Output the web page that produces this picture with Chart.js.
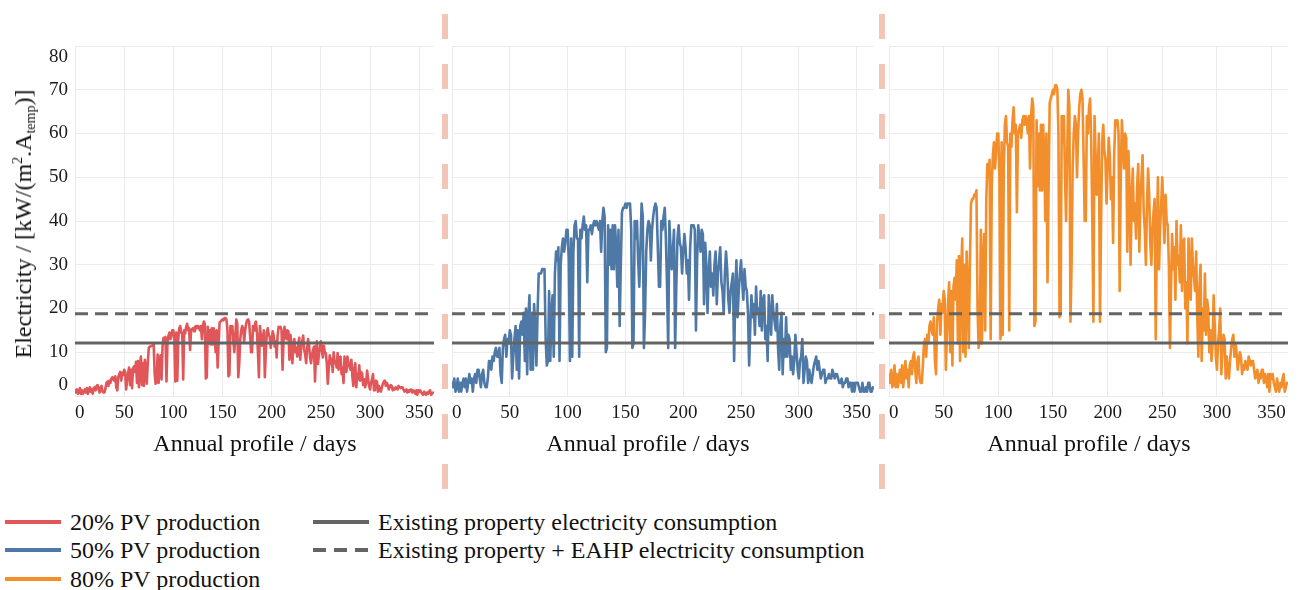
<!DOCTYPE html>
<html>
<head>
<meta charset="utf-8">
<script src="https://cdn.jsdelivr.net/npm/chart.js@4.4.1/dist/chart.umd.min.js"></script>
<style>
  html, body { margin: 0; padding: 0; background: #fff; }
  #wrap { position: relative; width: 1301px; height: 590px; overflow: hidden; background: #fff;
          font-family: "Liberation Serif", "Times New Roman", serif; color: #111; }
  #wrap canvas { position: absolute; top: 0; }
  .sep { position: absolute; top: 14px; width: 6px; height: 476px;
         background: repeating-linear-gradient(to bottom, #f2c5b6 0 25px, transparent 25px 50px); }
  .xtitle { position: absolute; top: 429px; font-size: 24px; line-height: 28px; white-space: nowrap;
            transform: translateX(-50%); }
  #ytitle { position: absolute; left: 23px; top: 224px; font-size: 24px; line-height: 24px; white-space: nowrap;
            transform: translate(-50%, -50%) rotate(-90deg); }
  #ytitle sup, #ytitle sub { font-size: 14px; line-height: 0; }
  #ytitle sup { vertical-align: 9px; }
  #ytitle sub { vertical-align: -4px; }
  .leg { position: absolute; display: flex; align-items: center; font-size: 24px; line-height: 28px; white-space: nowrap; }
  .leg svg { margin-right: 9px; display: block; }
</style>
</head>
<body>
<div id="wrap">
  <canvas id="p20" width="440" height="470" style="left:0px"></canvas>
  <canvas id="p50" width="434" height="470" style="left:446px"></canvas>
  <canvas id="p80" width="411" height="470" style="left:883px"></canvas>
  <div class="sep" style="left:442px"></div>
  <div class="sep" style="left:879px"></div>
  <div id="ytitle">Electricity / [kW/(m<sup>2</sup>.A<sub>temp</sub>)]</div>
  <div class="xtitle" style="left:255px">Annual profile / days</div>
  <div class="xtitle" style="left:648px">Annual profile / days</div>
  <div class="xtitle" style="left:1089px">Annual profile / days</div>
</div>
<script>
// Daily PV production over the year (day 0 .. 364), one value per day
const pv20 = [
  1.3,0.8,1.5,0.5,0.8,1.8,0.5,1.3,0.5,1,
  1.5,0.8,1.8,0.5,1.3,2,1,1.5,0.5,1.8,
  2,1.3,2.3,2.5,1.5,0.8,2,2.3,1,0.8,
  0.8,1.8,3,3.3,2.3,3.5,3,4,4.3,3.8,
  3.5,4.5,2,1.3,4.3,5,5.5,3.5,5.3,4.8,
  6,5.5,1.5,3.5,5.3,6.5,2.5,6,1.8,6.3,
  6.8,5.5,7.8,3,8,2,7,9,2.5,7.5,
  2.3,8.3,6.5,2.8,7.5,11,11.3,11.3,11.5,11.5,
  11.8,5,2.8,3.3,9.5,3,7.5,9.3,3.8,11.3,
  13.3,12.5,13.5,3.3,12,13.8,14.5,13,14,15,
  15,12.5,3.3,14.5,3.5,13,15.5,16,14.5,14.3,
  3.8,15,14.3,15.8,16.5,15,15.5,10.5,15,15.3,
  15.5,14.8,15.8,16,15.5,16,15.8,15,16,13,
  16,17,16.5,4,4.3,15.8,12,15,11.8,15.5,
  11.8,15.5,13.8,10,15,6.5,12,16.8,17,17.3,
  17.5,17.3,17.8,17.8,17.5,15,4.5,4.8,16,14.5,
  16,12.5,10,13.8,17.5,16.5,4.3,7.5,13,15,
  16,15.5,12.5,15,16.5,17.3,17.5,17,13.8,10,
  10,16,15,16.5,17,14.5,10,4.3,16,13.8,
  11.5,13,15,4.3,10,14.5,15.5,14,13.5,11,
  13,14.8,13.8,11.3,12.5,8.8,13.8,15.8,15.5,15.8,
  15,6,12.5,15.8,14.5,13,15,14.8,8.3,14,
  12,7.5,11.3,13,10,11,9,12,13.3,8.3,
  11.3,12.5,13.8,10.5,9.5,7.5,11,13,11.5,8.8,
  7.5,9.5,10.5,11.3,3.3,9,12.5,7.3,9.5,11,
  12.5,10.5,8.8,11.5,10,9.8,7.5,2.8,6.3,9.3,
  7.3,8.5,5.5,10,7.5,8,6.5,9.8,6,8.8,
  9,5,6.5,3,9,7,5.5,9,7.5,6.8,
  6,8.3,4.5,2.3,6.3,7.5,2,5,3.8,7,
  3.5,5.5,5,2.5,3.8,2,3,5.8,4,2.3,
  1.5,3,3.8,5,1.3,2.5,3.5,3.3,1,2.3,
  1.5,1,2,2.8,3.3,3.5,2.3,3,2.5,1.5,
  2,2.5,2.3,1.3,1.8,1.5,2,1.8,1.5,2.3,
  2,1.8,2,2,1.5,1,1.3,1.5,0.8,1.3,
  1,1.5,1.5,0.8,1.3,1,0.5,1.3,0.3,1.3,
  1,1.3,0.8,0.5,0.3,1,0.5,0.3,0.8,0.5,
  1,1.3,0.3,0.5,0.8
];
const pv50 = [
  3,2,4,1,2,4,1,3,1,3,
  4,2,4,1,3,5,3,4,1,4,
  5,3,6,6,4,2,5,6,3,2,
  2,4,8,8,6,9,8,10,11,9,
  9,11,5,3,11,13,14,9,13,12,
  15,14,4,9,13,16,6,15,4,16,
  17,14,19,8,20,5,18,23,6,19,
  6,21,16,7,19,28,28,28,29,29,
  29,13,7,8,24,8,19,23,9,28,
  33,31,34,8,30,34,36,33,35,38,
  38,31,8,36,9,33,39,40,36,36,
  9,38,36,39,41,38,39,26,38,38,
  39,37,39,40,39,40,39,38,40,33,
  40,43,41,10,11,39,30,38,29,39,
  29,39,34,25,38,16,30,42,43,43,
  44,43,44,44,44,38,11,12,40,36,
  40,31,25,34,44,41,11,19,33,38,
  40,39,31,38,41,43,44,43,34,25,
  25,40,38,41,43,36,25,11,40,34,
  29,33,38,11,25,36,39,35,34,28,
  33,37,34,28,31,22,34,39,39,39,
  38,15,31,39,36,33,38,37,21,35,
  30,19,28,33,25,28,23,30,33,21,
  28,31,34,26,24,19,28,33,29,22,
  19,24,26,28,8,23,31,18,24,28,
  31,26,22,29,25,24,19,7,16,23,
  18,21,14,25,19,20,16,24,15,22,
  23,13,16,8,23,18,14,23,19,17,
  15,21,11,6,16,19,5,13,9,18,
  9,14,13,6,9,5,8,14,10,6,
  4,8,9,13,3,6,9,8,3,6,
  4,3,5,7,8,9,6,8,6,4,
  5,6,6,3,4,4,5,4,4,6,
  5,4,5,5,4,3,3,4,2,3,
  3,4,4,2,3,3,1,3,1,3,
  3,3,2,1,1,3,1,1,2,1,
  3,3,1,1,2
];
const pv80 = [
  5,3,6,2,3,7,2,5,2,4,
  6,3,7,2,5,8,4,6,2,7,
  8,5,9,10,6,3,8,9,4,3,
  3,7,12,13,9,14,12,16,17,15,
  14,18,8,5,17,20,22,14,21,19,
  24,22,6,14,21,26,10,24,7,25,
  27,22,31,12,32,8,28,36,10,30,
  9,33,26,11,30,44,45,45,46,46,
  47,20,11,13,38,12,30,37,15,45,
  53,50,54,13,48,55,58,52,56,60,
  60,50,13,58,14,52,62,64,58,57,
  15,60,57,63,66,60,62,42,60,61,
  62,59,63,64,62,64,63,60,64,52,
  64,68,66,16,17,63,48,60,47,62,
  47,62,55,40,60,26,48,67,68,69,
  70,69,71,71,70,60,18,19,64,58,
  64,50,40,55,70,66,17,30,52,60,
  64,62,50,60,66,69,70,68,55,40,
  40,64,60,66,68,58,40,17,64,55,
  46,52,60,17,40,58,62,56,54,44,
  52,59,55,45,50,35,55,63,62,63,
  60,24,50,63,58,52,60,59,33,56,
  48,30,45,52,40,44,36,48,53,33,
  45,50,55,42,38,30,44,52,46,35,
  30,38,42,45,13,36,50,29,38,44,
  50,42,35,46,40,39,30,11,25,37,
  29,34,22,40,30,32,26,39,24,35,
  36,20,26,12,36,28,22,36,30,27,
  24,33,18,9,25,30,8,20,15,28,
  14,22,20,10,15,8,12,23,16,9,
  6,12,15,20,5,10,14,13,4,9,
  6,4,8,11,13,14,9,12,10,6,
  8,10,9,5,7,6,8,7,6,9,
  8,7,8,8,6,4,5,6,3,5,
  4,6,6,3,5,4,2,5,1,5,
  4,5,3,2,1,4,2,1,3,2,
  4,5,1,2,3
];

// Constant consumption levels
const existingConsumption = 12.1;
const eahpConsumption = 18.8;

// Axis ticks
const dayTicks = [0, 50, 100, 150, 200, 250, 300, 350];
const powerTicks = [0, 10, 20, 30, 40, 50, 60, 70, 80];
const dayMax = 365;
const powerMax = 80;

const seriesNames = ['20% PV production', '50% PV production', '80% PV production'];
const consumptionNames = ['Existing property electricity consumption', 'Existing property + EAHP electricity consumption'];

const COLORS = { pv20: '#e15759', pv50: '#4e79a7', pv80: '#f28e2b', grey: '#646464', grid: '#ebebeb', text: '#1a1a1a' };
const SERIF = '"Liberation Serif", "Times New Roman", serif';
const DASH = [13, 7];

function buildPanel(canvasId, values, name, color, showPowerLabels, pad) {
  const points = values.map((v, day) => ({ x: day, y: v }));
  return new Chart(document.getElementById(canvasId), {
    type: 'line',
    data: {
      datasets: [
        { label: consumptionNames[0], data: [{ x: 0, y: existingConsumption }, { x: dayMax, y: existingConsumption }],
          borderColor: COLORS.grey, borderWidth: 3 },
        { label: consumptionNames[1], data: [{ x: 0, y: eahpConsumption }, { x: dayMax, y: eahpConsumption }],
          borderColor: COLORS.grey, borderWidth: 3, borderDash: DASH },
        { label: name, data: points, borderColor: color, borderWidth: 2.6,
          borderJoinStyle: 'round', borderCapStyle: 'round' }
      ]
    },
    options: {
      responsive: false,
      animation: false,
      devicePixelRatio: 1,
      layout: { padding: pad },
      plugins: { legend: { display: false }, tooltip: { enabled: false } },
      elements: { point: { radius: 0 }, line: { tension: 0, fill: false } },
      scales: {
        x: {
          type: 'linear', min: 0, max: dayMax,
          afterBuildTicks: s => { s.ticks = dayTicks.concat([dayMax]).map(v => ({ value: v })); },
          afterFit: s => { s.height = 74; },
          border: { display: false },
          grid: { drawTicks: false, color: c => (c.tick && c.tick.value === dayMax) ? 'rgba(0,0,0,0)' : COLORS.grid },
          ticks: {
            autoSkip: false, maxRotation: 0, minRotation: 0, align: 'inner', padding: 6,
            color: COLORS.text, font: { family: SERIF, size: 19 },
            callback: v => (v === dayMax ? '' : String(v))
          }
        },
        y: {
          type: 'linear', min: 0, max: powerMax,
          afterBuildTicks: s => { s.ticks = powerTicks.map(v => ({ value: v })); },
          afterFit: s => { s.width = showPowerLabels ? 75 : 0; },
          border: { display: false },
          grid: { drawTicks: false, color: COLORS.grid },
          ticks: {
            display: showPowerLabels, autoSkip: false, padding: 7,
            color: COLORS.text, font: { family: SERIF, size: 19 },
            // end labels sit inside the plot range
            callback: v => (v === powerMax ? ['', String(v)] : v === 0 ? [String(v), ''] : String(v))
          }
        }
      }
    }
  });
}

buildPanel('p20', pv20, seriesNames[0], COLORS.pv20, true, { top: 46, left: 0, right: 3, bottom: 0 });
buildPanel('p50', pv50, seriesNames[1], COLORS.pv50, false, { top: 46, left: 4, right: 2, bottom: 0 });
buildPanel('p80', pv80, seriesNames[2], COLORS.pv80, false, { top: 46, left: 3, right: 2, bottom: 0 });

// Legend below the panels
const legendItems = [
  { text: seriesNames[0], color: COLORS.pv20, dash: null, left: 5, top: 508 },
  { text: seriesNames[1], color: COLORS.pv50, dash: null, left: 5, top: 536 },
  { text: seriesNames[2], color: COLORS.pv80, dash: null, left: 5, top: 565 },
  { text: consumptionNames[0], color: COLORS.grey, dash: null, left: 313, top: 508 },
  { text: consumptionNames[1], color: COLORS.grey, dash: '13 8', left: 313, top: 536 }
];
const wrap = document.getElementById('wrap');
legendItems.forEach(it => {
  const el = document.createElement('div');
  el.className = 'leg';
  el.style.left = it.left + 'px';
  el.style.top = it.top + 'px';
  const dashAttr = it.dash ? ` stroke-dasharray="${it.dash}"` : '';
  el.innerHTML = `<svg width="56" height="8"><line x1="0" y1="4" x2="56" y2="4" stroke="${it.color}" stroke-width="4"${dashAttr}/></svg><span></span>`;
  el.querySelector('span').textContent = it.text;
  wrap.appendChild(el);
});
</script>
</body>
</html>
